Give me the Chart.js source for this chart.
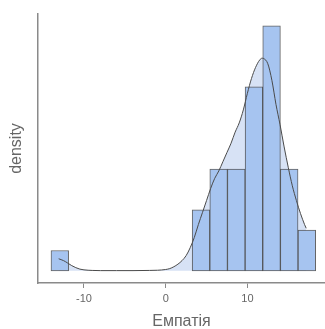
<!DOCTYPE html>
<html lang="uk">
<head>
<meta charset="utf-8">
<title>Емпатія – histogram</title>
<script src="https://cdn.jsdelivr.net/npm/chart.js@4/dist/chart.umd.min.js"></script>
<style>
  html, body { margin: 0; padding: 0; background: #fff; }
  #wrap { width: 325px; height: 329px; position: relative; }
</style>
</head>
<body>
<div id="wrap"><canvas id="hist"></canvas></div>
<script>
  // ======= Data =======
  // histogram bins: centres and heights (density)
  const BIN_CENTERS = [-12.96, 4.32, 6.48, 8.64, 10.80, 12.96, 15.12, 17.28];
  const BIN_DENSITY = [0.011, 0.033, 0.055, 0.055, 0.0995, 0.1325, 0.055, 0.022];

  // kernel density curve
  const KDE_X = [-13.1, -12.5, -12.0, -11.5, -11.0, -10.5, -10.0, -9.0, -8.0, -6.0, -4.0, -2.0, -1.0,
                 0.0, 0.5, 1.0, 1.5, 2.0, 2.5, 3.0, 3.5, 4.0, 4.5, 5.0, 5.5, 6.0, 6.5, 7.0, 7.5,
                 8.0, 8.5, 9.0, 9.5, 10.0, 10.5, 11.0, 11.5, 11.8, 12.0, 12.5, 13.0, 13.5, 14.0,
                 14.5, 15.0, 15.5, 16.0, 16.5, 17.0, 17.2];
  const KDE_Y = [0.0065, 0.0055, 0.0042, 0.0028, 0.0017, 0.0009, 0.0005, 0.0002, 0.0001, 0.0001, 0.0001, 0.0002, 0.0003,
                 0.0007, 0.0012, 0.0022, 0.0036, 0.0055, 0.0082, 0.0125, 0.018, 0.025, 0.0315, 0.038, 0.0445, 0.050, 0.054, 0.059, 0.064,
                 0.069, 0.075, 0.080, 0.087, 0.096, 0.104, 0.110, 0.114, 0.115, 0.1148, 0.112, 0.103, 0.090, 0.079,
                 0.067, 0.056, 0.046, 0.038, 0.031, 0.025, 0.023];

  const X_TICKS = [-10, 0, 10];
  const X_TITLE = "Емпатія";
  const Y_TITLE = "density";

  // ======= Styling =======
  const FONT = "'Liberation Sans', Arial, sans-serif";
  const BAR_FILL = "#a6c4f0";
  const BAR_EDGE = "rgba(60,60,60,0.8)";
  const KDE_FILL = "#d7e2f5";
  const KDE_LINE = "#4a4a4a";
  const AXIS = "#8a8a8a";
  const TEXT = "#666666";

  const bars = BIN_CENTERS.map((x, i) => ({ x, y: BIN_DENSITY[i] }));
  const kde = KDE_X.map((x, i) => ({ x, y: KDE_Y[i] }));

  new Chart(document.getElementById("hist"), {
    type: "bar",
    data: {
      datasets: [
        {
          // density area, behind the bars
          type: "line", data: kde, order: 3,
          fill: "origin", backgroundColor: KDE_FILL,
          borderWidth: 0, pointRadius: 0, cubicInterpolationMode: "monotone"
        },
        {
          data: bars, order: 2,
          backgroundColor: BAR_FILL, borderColor: BAR_EDGE, borderWidth: 1,
          borderSkipped: false, barPercentage: 1, categoryPercentage: 1
        },
        {
          // density outline, on top
          type: "line", data: kde, order: 1,
          fill: false, borderColor: KDE_LINE, borderWidth: 1,
          pointRadius: 0, cubicInterpolationMode: "monotone"
        }
      ]
    },
    options: {
      responsive: true,
      maintainAspectRatio: false,
      animation: false,
      layout: { padding: { top: 14, right: 0, bottom: 0, left: 0 } },
      plugins: { legend: { display: false }, tooltip: { enabled: false } },
      scales: {
        x: {
          type: "linear", min: -15.63, max: 19.5, offset: false,
          afterFit: s => { s.height = 46; },
          afterBuildTicks: s => { s.ticks = X_TICKS.map(v => ({ value: v })); },
          grid: { display: true, offset: false, drawOnChartArea: false, drawTicks: true, tickLength: 5, color: AXIS, lineWidth: 1 },
          border: { display: true, color: AXIS, width: 1.5 },
          ticks: { color: TEXT, padding: 4, font: { family: FONT, size: 11 } },
          title: { display: true, text: X_TITLE, color: TEXT, padding: { top: 0, bottom: -1 },
                   font: { family: FONT, size: 16, lineHeight: 1 } }
        },
        y: {
          min: -0.0066, max: 0.1389,
          afterFit: s => { s.width = 38; },
          grid: { display: false },
          border: { display: true, color: AXIS, width: 1.5 },
          ticks: { display: false },
          title: { display: true, text: Y_TITLE, color: TEXT, padding: { top: 9, bottom: 0 },
                   font: { family: FONT, size: 16, lineHeight: 1 } }
        }
      }
    }
  });
</script>
</body>
</html>
